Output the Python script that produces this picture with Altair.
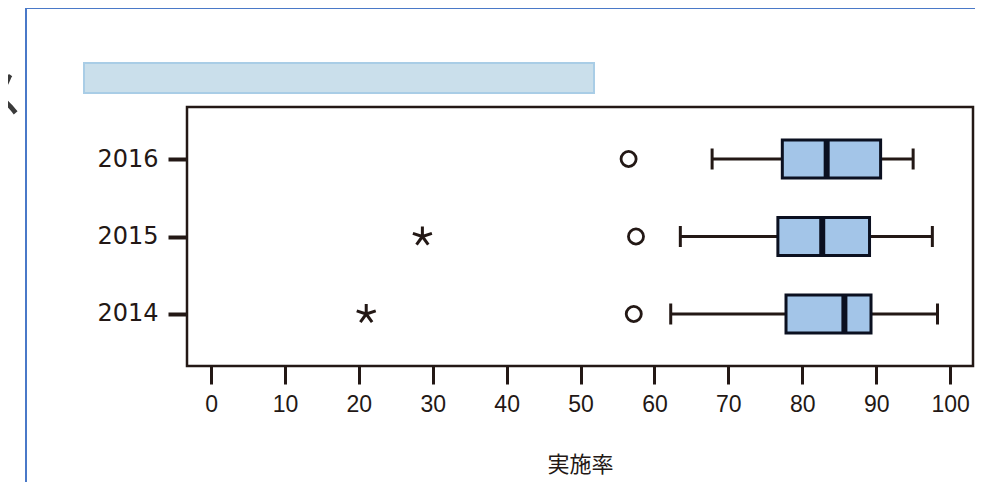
import altair as alt
import pandas as pd

# ---- data ----
years = ["2016", "2015", "2014"]
whisker_lo = [67.8, 63.5, 62.2]
q1 = [77.3, 76.7, 77.8]
median = [83.3, 82.7, 85.7]
q3 = [90.6, 89.1, 89.3]
whisker_hi = [95.0, 97.6, 98.3]

circle_years = ["2016", "2015", "2014"]
circle_vals = [56.5, 57.5, 57.2]

star_years = ["2015", "2014"]
star_vals = [28.6, 21.0]

x_ticks = [0, 10, 20, 30, 40, 50, 60, 70, 80, 90, 100]

box_df = pd.DataFrame({"year": years, "lo": whisker_lo, "q1": q1,
                       "med": median, "q3": q3, "hi": whisker_hi})
circ_df = pd.DataFrame({"year": circle_years, "v": circle_vals})
star_df = pd.DataFrame({"year": star_years, "v": star_vals})

INK = "#231815"
NAVY = "#0b1020"
BOX = "#a3c5e8"

xscale = alt.Scale(domain=[-3.25, 103.1], nice=False, zero=False)
yscale = alt.Scale(type="point", domain=years, padding=0.671)

xaxis = alt.Axis(values=x_ticks, title="実施率", domain=False, grid=False,
                 tickSize=18, tickWidth=3, tickColor=INK, labelPadding=9,
                 labelFontSize=23, labelColor=INK, labelFont="Liberation Sans",
                 titleFont="Noto Sans CJK JP", titleFontSize=22, titleFontWeight="normal",
                 titleColor=INK, titlePadding=38)
yaxis = alt.Axis(title=None, domain=False, grid=False, tickSize=19, tickWidth=4,
                 tickColor=INK, labelPadding=10, labelFontSize=24, labelColor=INK,
                 labelFont="DejaVu Sans")

base = alt.Chart(box_df)
X = lambda f: alt.X(f, type="quantitative", scale=xscale, axis=xaxis)
Y = alt.Y("year:N", scale=yscale, axis=yaxis, sort=years)

whisk_l = base.mark_rule(color=INK, strokeWidth=3).encode(x=X("lo"), x2="q1", y=Y)
whisk_r = base.mark_rule(color=INK, strokeWidth=3).encode(x=X("q3"), x2="hi", y=Y)
cap_l = base.mark_tick(color=INK, thickness=3, size=21, opacity=1).encode(x=X("lo"), y=Y)
cap_r = base.mark_tick(color=INK, thickness=3, size=21, opacity=1).encode(x=X("hi"), y=Y)
box = base.mark_bar(size=38, fill=BOX, stroke=NAVY, strokeWidth=3, opacity=1).encode(
    x=X("q1"), x2="q3", y=Y)
med = base.mark_tick(color=NAVY, thickness=6, size=38, opacity=1).encode(x=X("med"), y=Y)

circles = alt.Chart(circ_df).mark_point(shape="circle", size=227, filled=False,
                                        stroke=INK, strokeWidth=2.8, opacity=1).encode(
    x=X("v"), y=Y)

star_path = ("M0,0L0,-1M0,0L0.951,-0.309M0,0L0.588,0.809"
             "M0,0L-0.588,0.809M0,0L-0.951,-0.309")
stars = alt.Chart(star_df).mark_point(shape=star_path, size=400, filled=False,
                                      stroke=INK, strokeWidth=3, opacity=1).encode(
    x=X("v"), y=Y)

# ---- page decorations (outside the plot area) ----
deco = pd.DataFrame({"k": [0]})
blue_v = alt.Chart(deco).mark_rule(color="#4a79c8", strokeWidth=2).encode(
    x=alt.value(-161), y=alt.value(-99), y2=alt.value(400))
blue_h = alt.Chart(deco).mark_rule(color="#4a79c8", strokeWidth=2).encode(
    x=alt.value(-161), x2=alt.value(820), y=alt.value(-99))
band = alt.Chart(deco).mark_rect(fill="#cadfeb", stroke="#a9cde6", strokeWidth=2).encode(
    x=alt.value(-103), x2=alt.value(407), y=alt.value(-44), y2=alt.value(-14))
kana = alt.Chart(deco).mark_text(text="ス", font="Noto Sans CJK JP", fontSize=54,
                                 align="right", baseline="middle", color="#3a3a3a").encode(
    x=alt.value(-164), y=alt.value(-10))

chart = alt.layer(blue_v, blue_h, band, kana, whisk_l, whisk_r, cap_l, cap_r, box, med,
                  circles, stars).properties(
    width=786, height=259,
    autosize=alt.AutoSizeParams(type="none"),
    padding={"left": 179, "top": 99, "right": 2, "bottom": 116},
    background="white",
).configure_view(stroke=INK, strokeWidth=2.5)

chart.save("out.html", embed_options={"renderer": "svg", "actions": False})
